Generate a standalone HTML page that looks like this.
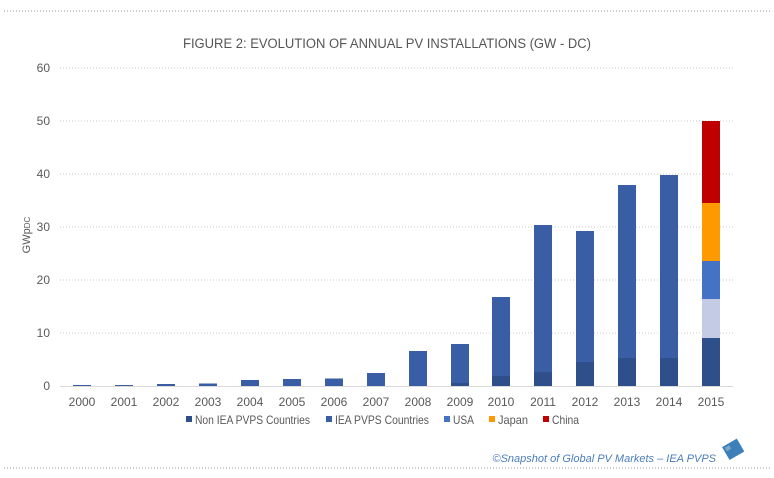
<!DOCTYPE html>
<html><head><meta charset="utf-8"><style>
html,body{margin:0;padding:0;background:#fff;}
svg{display:block;font-family:"Liberation Sans",sans-serif;}
</style></head><body>
<svg width="774" height="478" viewBox="0 0 774 478" xmlns="http://www.w3.org/2000/svg">
<line x1="4" y1="11" x2="770" y2="11" stroke="#999" stroke-dasharray="1,2"/>
<line x1="4" y1="468" x2="770" y2="468" stroke="#999" stroke-dasharray="1,2"/>
<text x="183" y="48" textLength="408" lengthAdjust="spacingAndGlyphs" font-size="13.5" fill="#555">FIGURE 2: EVOLUTION OF ANNUAL PV INSTALLATIONS (GW - DC)</text>
<g stroke="#c8c8c8" stroke-dasharray="1,2">
<line x1="60" y1="68" x2="733" y2="68"/><line x1="60" y1="121" x2="733" y2="121"/>
<line x1="60" y1="174" x2="733" y2="174"/><line x1="60" y1="227" x2="733" y2="227"/>
<line x1="60" y1="280" x2="733" y2="280"/><line x1="60" y1="333" x2="733" y2="333"/>
</g>
<line x1="60" y1="386.5" x2="733" y2="386.5" stroke="#d9d9d9"/>
<g font-size="12" fill="#595959" text-anchor="end">
<text x="50" y="72">60</text><text x="50" y="125">50</text><text x="50" y="178">40</text>
<text x="50" y="231">30</text><text x="50" y="284">20</text><text x="50" y="337">10</text><text x="50" y="390">0</text>
</g>
<text transform="translate(30,235) rotate(-90)" font-size="11" fill="#595959" text-anchor="middle">GWp<tspan font-size="8">DC</tspan></text>
<g fill="#3a5ea6">
<rect x="73" y="385" width="18" height="1"/>
<rect x="115" y="385" width="18" height="1"/>
<rect x="157" y="384" width="18" height="2"/>
<rect x="199" y="383.5" width="18" height="2.5"/>
<rect x="241" y="380" width="18" height="6"/>
<rect x="283" y="379" width="18" height="7"/>
<rect x="325" y="378.5" width="18" height="7.5"/>
<rect x="367" y="373" width="18" height="13"/>
<rect x="409" y="351" width="18" height="35"/>
<rect x="451" y="344" width="18" height="42"/>
<rect x="492" y="297" width="18" height="89"/>
<rect x="534" y="225" width="18" height="161"/>
<rect x="576" y="231" width="18" height="155"/>
<rect x="618" y="185" width="18" height="201"/>
<rect x="660" y="175" width="18" height="211"/>
</g>
<g fill="#2f4f8a">
<rect x="451" y="383" width="18" height="3"/>
<rect x="492" y="376" width="18" height="10"/>
<rect x="534" y="372" width="18" height="14"/>
<rect x="576" y="362" width="18" height="24"/>
<rect x="618" y="358" width="18" height="28"/>
<rect x="660" y="358" width="18" height="28"/>
<rect x="702" y="338" width="18" height="48"/>
</g>
<rect x="702" y="299" width="18" height="39" fill="#c3cce4"/>
<rect x="702" y="261" width="18" height="38" fill="#4472c4"/>
<rect x="702" y="203" width="18" height="58" fill="#ff9900"/>
<rect x="702" y="121" width="18" height="82" fill="#c00000"/>
<g font-size="12" fill="#595959" text-anchor="middle">
<text x="82" y="406">2000</text><text x="124" y="406">2001</text><text x="166" y="406">2002</text>
<text x="208" y="406">2003</text><text x="250" y="406">2004</text><text x="292" y="406">2005</text>
<text x="334" y="406">2006</text><text x="376" y="406">2007</text><text x="418" y="406">2008</text>
<text x="460" y="406">2009</text><text x="501" y="406">2010</text><text x="543" y="406">2011</text>
<text x="585" y="406">2012</text><text x="627" y="406">2013</text><text x="669" y="406">2014</text>
<text x="711" y="406">2015</text>
</g>
<g font-size="12" fill="#595959">
<rect x="186" y="416" width="6" height="6" fill="#2f4f8a"/><text x="195" y="424" textLength="115" lengthAdjust="spacingAndGlyphs">Non IEA PVPS Countries</text>
<rect x="326" y="416" width="6" height="6" fill="#3a5ea6"/><text x="335" y="424" textLength="94" lengthAdjust="spacingAndGlyphs">IEA PVPS Countries</text>
<rect x="444" y="416" width="6" height="6" fill="#4472c4"/><text x="453" y="424" textLength="21" lengthAdjust="spacingAndGlyphs">USA</text>
<rect x="489" y="416" width="6" height="6" fill="#ff9900"/><text x="498" y="424" textLength="30" lengthAdjust="spacingAndGlyphs">Japan</text>
<rect x="543" y="416" width="6" height="6" fill="#c00000"/><text x="552" y="424" textLength="27" lengthAdjust="spacingAndGlyphs">China</text>
</g>
<text x="716" y="462" text-anchor="end" font-size="11" font-style="italic" fill="#4a7ebb">©Snapshot of Global PV Markets – IEA PVPS</text>
<g transform="translate(733,450) rotate(-30)"><rect x="-8" y="-8" width="17" height="15" fill="#3d7fb8"/><rect x="-6" y="-6" width="5" height="4" fill="#7fa8c8"/></g>
</svg>
</body></html>
